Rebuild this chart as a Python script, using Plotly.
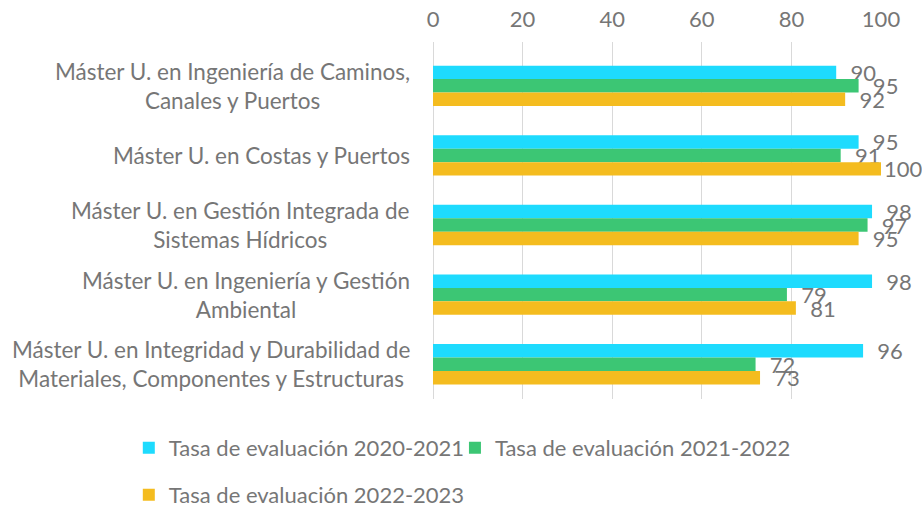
import plotly.graph_objects as go

categories = [
    "Máster U. en Ingeniería de Caminos,<br>Canales y Puertos",
    "Máster U. en Costas y Puertos",
    "Máster U. en Gestión Integrada de<br>Sistemas Hídricos",
    "Máster U. en Ingeniería y Gestión<br>Ambiental",
    "Máster U. en Integridad y Durabilidad de<br>Materiales, Componentes y Estructuras",
]
series_names = [
    "Tasa de evaluación 2020-2021",
    "Tasa de evaluación 2021-2022",
    "Tasa de evaluación 2022-2023",
]
values_2020_2021 = [90, 95, 98, 98, 96]
values_2021_2022 = [95, 91, 97, 79, 72]
values_2022_2023 = [92, 100, 95, 81, 73]
x_ticks = [0, 20, 40, 60, 80, 100]

colors = ["#1EDBFE", "#3CC674", "#F4BC1F"]
FONT = "Lato"
GRAY = "#767676"
FS = 22

fig = go.Figure()
all_series = [values_2020_2021, values_2021_2022, values_2022_2023]
legends = ["legend", "legend3", "legend2"]
for name, vals, col, lg in zip(series_names, all_series, colors, legends):
    tmpl = [("\u00a0\u00a0" if v < 99 else "") + "%{x}" for v in vals]
    fig.add_trace(go.Bar(
        y=categories, x=vals, name=name, orientation="h",
        marker=dict(color=col, line=dict(width=0)),
        texttemplate=tmpl, textposition="outside",
        textfont=dict(family=FONT, size=FS, color=GRAY),
        constraintext="none", cliponaxis=False, legend=lg,
    ))

for c in categories:
    fig.add_annotation(
        x=0, xref="paper", y=c, yref="y", text=c, showarrow=False,
        xanchor="right", yanchor="middle", align="center", xshift=-21,
        font=dict(family=FONT, size=22.5, color=GRAY),
    )

legend_font = dict(family=FONT, size=FS, color=GRAY)
clear = "rgba(0,0,0,0)"
fig.update_layout(
    width=922, height=508,
    margin=dict(l=433, r=41, t=42, b=109, autoexpand=False),
    paper_bgcolor="white", plot_bgcolor="white",
    barmode="group", bargap=0.42, bargroupgap=0,
    font=dict(family=FONT, size=FS, color=GRAY),
    showlegend=True,
    legend=dict(orientation="h", x=-0.679, xanchor="left", y=-0.078, yanchor="top",
                font=legend_font, bgcolor=clear),
    legend3=dict(orientation="h", x=0.049, xanchor="left", y=-0.078, yanchor="top",
                 font=legend_font, bgcolor=clear),
    legend2=dict(orientation="h", x=-0.679, xanchor="left", y=-0.21, yanchor="top",
                 font=legend_font, bgcolor=clear),
    xaxis=dict(range=[0, 100], side="top", tickvals=x_ticks, showgrid=True,
               gridcolor="#D9D9D9", gridwidth=1, zeroline=True, zerolinecolor="#D9D9D9",
               zerolinewidth=1, showline=False, ticks="", ticklabelstandoff=10,
               automargin=False,
               tickfont=dict(family=FONT, size=FS, color=GRAY)),
    yaxis=dict(categoryorder="array", categoryarray=categories, range=[4.5, -0.63],
               showticklabels=False, showgrid=False, zeroline=False, showline=False,
               ticks="", automargin=False),
)

fig.write_html("out.html", config={"displayModeBar": False},
               post_script="document.body.style.margin='0';document.body.style.overflow='hidden';")
